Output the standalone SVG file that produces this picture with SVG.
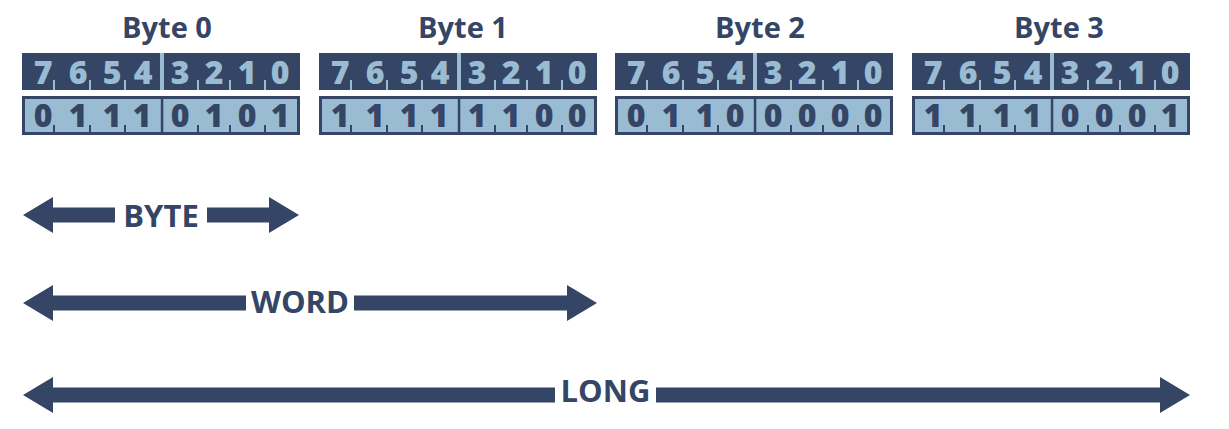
<svg xmlns="http://www.w3.org/2000/svg" width="1229" height="429" viewBox="0 0 1229 429">
<defs>
<style>
.dk{fill:#354565}
.lt{fill:#9abcd3}
.cell{fill:#9abcd3;stroke:#354565;stroke-width:3}
.title{font-family:"Open Sans","Liberation Sans",sans-serif;font-weight:700;font-size:29px;fill:#354565;text-anchor:middle}
.dt{font-family:"Open Sans","Liberation Sans",sans-serif;font-weight:800;font-size:32px;fill:#9abcd3;text-anchor:middle}
.db{font-family:"Open Sans","Liberation Sans",sans-serif;font-weight:800;font-size:32px;fill:#354565;text-anchor:middle}
.lbl{font-family:"Open Sans","Liberation Sans",sans-serif;font-weight:700;font-size:31px;fill:#354565;text-anchor:middle}
.arr{fill:#354565}
</style>
<g id="frame">
<rect class="dk" x="0" y="53" width="278" height="37"/>
<rect class="lt" x="138" y="53" width="4" height="37"/>
<rect class="lt" x="31" y="80" width="2" height="10"/>
<rect class="lt" x="67" y="80" width="2" height="10"/>
<rect class="lt" x="102" y="80" width="2" height="10"/>
<rect class="lt" x="175" y="80" width="2" height="10"/>
<rect class="lt" x="207" y="80" width="2" height="10"/>
<rect class="lt" x="242" y="80" width="2" height="10"/>
<rect class="cell" x="1.5" y="97.5" width="275" height="36"/>
<rect class="dk" x="138.8" y="97" width="2.5" height="37"/>
<rect class="dk" x="31" y="125" width="2" height="8"/>
<rect class="dk" x="67" y="125" width="2" height="8"/>
<rect class="dk" x="102" y="125" width="2" height="8"/>
<rect class="dk" x="175" y="125" width="2" height="8"/>
<rect class="dk" x="207" y="125" width="2" height="8"/>
<rect class="dk" x="242" y="125" width="2" height="8"/>
<text class="dt" y="84"><tspan x="21">7</tspan><tspan x="56">6</tspan><tspan x="90">5</tspan><tspan x="121">4</tspan><tspan x="158">3</tspan><tspan x="192">2</tspan><tspan x="225">1</tspan><tspan x="258">0</tspan></text>
</g>
</defs>

<g id="byte0" transform="translate(22,0)">
<text class="title" x="145" y="38">Byte 0</text>
<use href="#frame"/>
<text class="db" y="127"><tspan x="21">0</tspan><tspan x="56">1</tspan><tspan x="90">1</tspan><tspan x="120">1</tspan><tspan x="158">0</tspan><tspan x="192">1</tspan><tspan x="225">0</tspan><tspan x="258">1</tspan></text>
</g>

<g id="byte1" transform="translate(319,0)">
<text class="title" x="144" y="38">Byte 1</text>
<use href="#frame"/>
<text class="db" y="127"><tspan x="21">1</tspan><tspan x="56">1</tspan><tspan x="90">1</tspan><tspan x="120">1</tspan><tspan x="158">1</tspan><tspan x="192">1</tspan><tspan x="225">0</tspan><tspan x="258">0</tspan></text>
</g>

<g id="byte2" transform="translate(615,0)">
<text class="title" x="145" y="38">Byte 2</text>
<use href="#frame"/>
<text class="db" y="127"><tspan x="21">0</tspan><tspan x="56">1</tspan><tspan x="90">1</tspan><tspan x="120">0</tspan><tspan x="158">0</tspan><tspan x="192">0</tspan><tspan x="225">0</tspan><tspan x="258">0</tspan></text>
</g>

<g id="byte3" transform="translate(912,0)">
<text class="title" x="147" y="38">Byte 3</text>
<use href="#frame"/>
<text class="db" y="127"><tspan x="21">1</tspan><tspan x="56">1</tspan><tspan x="90">1</tspan><tspan x="120">1</tspan><tspan x="158">0</tspan><tspan x="192">0</tspan><tspan x="225">0</tspan><tspan x="258">1</tspan></text>
</g>

<g id="connectors">
<g id="arrow-byte">
<polygon class="arr" points="23,215 53,197 53,207.5 115,207.5 115,222.5 53,222.5 53,233"/>
<polygon class="arr" points="299,215 269,197 269,207.5 207,207.5 207,222.5 269,222.5 269,233"/>
<text class="lbl" x="161" y="227">BYTE</text>
</g>
<g id="arrow-word">
<polygon class="arr" points="23,303 53,285 53,295.5 246,295.5 246,310.5 53,310.5 53,321"/>
<polygon class="arr" points="597,303 567,285 567,295.5 354,295.5 354,310.5 567,310.5 567,321"/>
<text class="lbl" x="300" y="313">WORD</text>
</g>
<g id="arrow-long">
<polygon class="arr" points="23,395 53,377 53,387.5 555,387.5 555,402.5 53,402.5 53,413"/>
<polygon class="arr" points="1190,395 1160,377 1160,387.5 656,387.5 656,402.5 1160,402.5 1160,413"/>
<text class="lbl" x="605.5" y="402">LONG</text>
</g>
</g>
</svg>
